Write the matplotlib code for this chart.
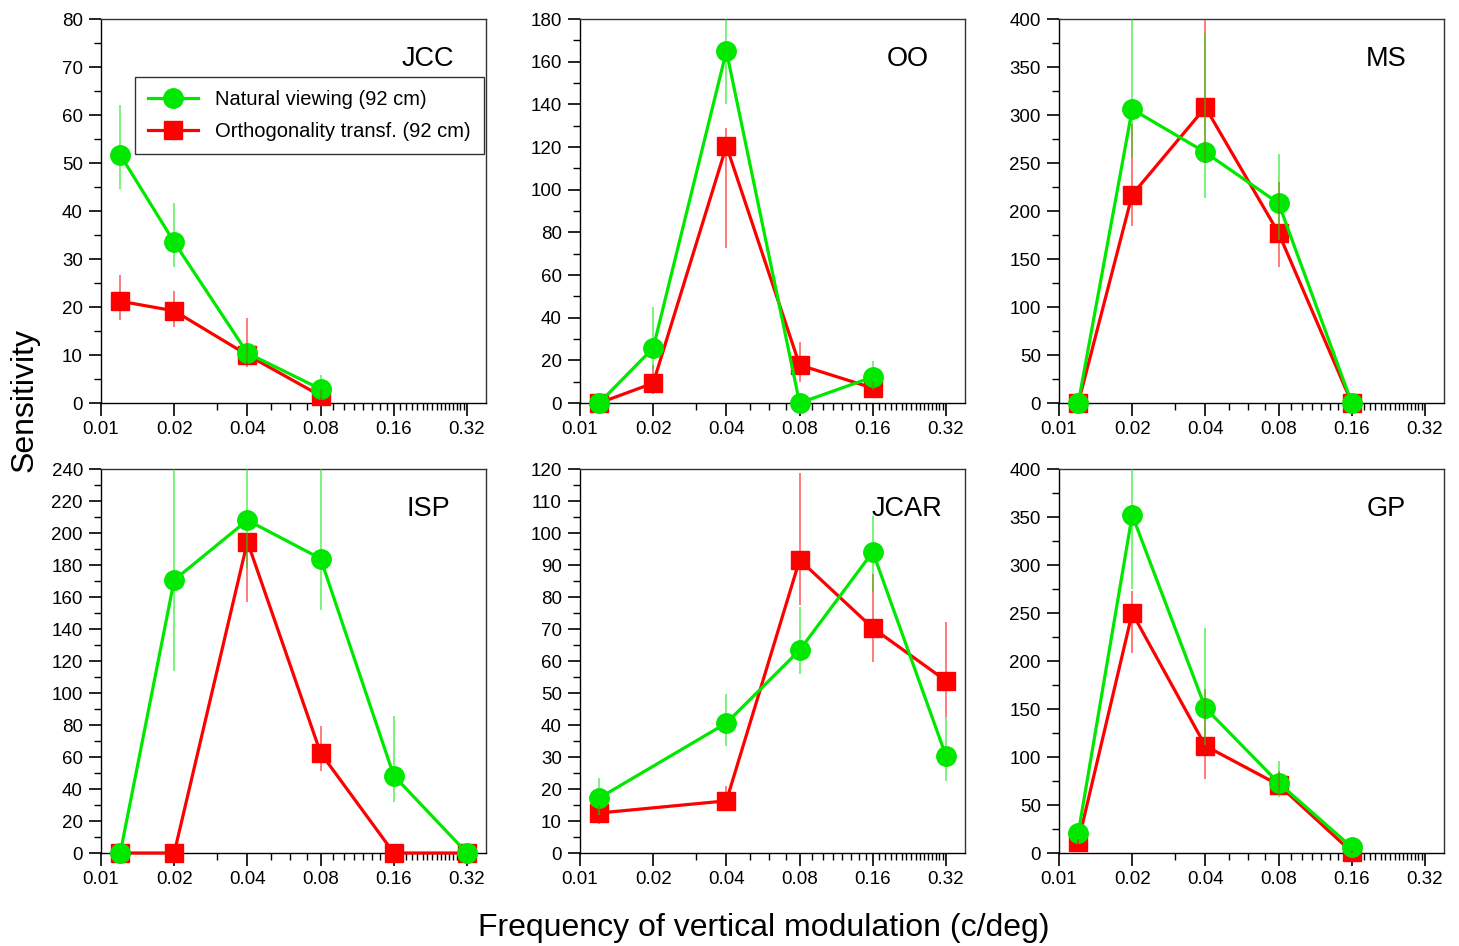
import numpy as np
import matplotlib
matplotlib.use("Agg")
import matplotlib.pyplot as plt
from matplotlib.ticker import FixedLocator, MultipleLocator, NullFormatter

plt.rcParams['font.family'] = ['Liberation Sans', 'DejaVu Sans']

# panel data: x positions (c/deg), means and error bar ends
names = ['JCC', 'OO', 'MS', 'ISP', 'JCAR', 'GP']

x_jcc = [0.012, 0.02, 0.04, 0.08]
nat_jcc = [51.7, 33.5, 10.4, 2.9]
nat_lo_jcc = [44.6, 28.3, 8.5, 1.0]
nat_hi_jcc = [62.1, 41.7, 12.5, 5.8]
ort_jcc = [21.2, 19.2, 10.0, 1.5]
ort_lo_jcc = [17.3, 15.8, 7.5, 0.5]
ort_hi_jcc = [26.7, 23.3, 17.7, 3.0]

x_oo = [0.012, 0.02, 0.04, 0.08, 0.16]
nat_oo = [0, 25.8, 165, 0, 12.2]
nat_lo_oo = [0, 16, 140, 0, 6]
nat_hi_oo = [0, 45, 200, 0, 19.7]
ort_oo = [0, 9.3, 120.5, 17.8, 7]
ort_lo_oo = [0, 4, 72.6, 10, 3]
ort_hi_oo = [0, 18, 129, 28.6, 10]

x_ms = [0.012, 0.02, 0.04, 0.08, 0.16]
nat_ms = [0, 306, 261, 208, 0]
nat_lo_ms = [0, 255, 214, 170, 0]
nat_hi_ms = [0, 420, 385, 259, 0]
ort_ms = [0, 217, 308, 177, 0]
ort_lo_ms = [0, 184, 250, 142, 0]
ort_hi_ms = [0, 291, 420, 230, 0]

x_isp = [0.012, 0.02, 0.04, 0.08, 0.16, 0.32]
nat_isp = [0, 170.6, 208, 184, 48.3, 0]
nat_lo_isp = [0, 114, 178, 152, 32, 0]
nat_hi_isp = [0, 260, 250, 250, 85.6, 0]
ort_isp = [0, 0, 194.6, 62.5, 0, 0]
ort_lo_isp = [0, 0, 157, 51, 0, 0]
ort_hi_isp = [0, 0, 200, 79.5, 0, 0]

x_jcar = [0.012, 0.04, 0.08, 0.16, 0.32]
nat_jcar = [17.2, 40.6, 63.4, 94.1, 30.3]
nat_lo_jcar = [12, 33.4, 56, 81.6, 22.5]
nat_hi_jcar = [23.4, 49.7, 76.8, 105.3, 42.5]
ort_jcar = [12.5, 16.3, 91.6, 70.3, 53.8]
ort_lo_jcar = [9, 13, 77.5, 59.7, 42.5]
ort_hi_jcar = [15, 21, 118.8, 87.2, 72.2]

x_gp = [0.012, 0.02, 0.04, 0.08, 0.16]
nat_gp = [20.8, 352, 151, 73, 6]
nat_lo_gp = [15, 275, 112, 58, 3]
nat_hi_gp = [26, 420, 234, 96, 9]
ort_gp = [11.5, 250, 111.5, 71, 1]
ort_lo_gp = [8, 208, 77, 60, 0]
ort_hi_gp = [15, 273, 171, 85, 2]

ylims = [80, 180, 400, 240, 120, 400]
ysteps = [10, 20, 50, 20, 10, 50]

xticks = [0.01, 0.02, 0.04, 0.08, 0.16, 0.32]
xticklabels = ['0.01', '0.02', '0.04', '0.08', '0.16', '0.32']

panels = [
    (x_jcc, nat_jcc, nat_lo_jcc, nat_hi_jcc, ort_jcc, ort_lo_jcc, ort_hi_jcc),
    (x_oo, nat_oo, nat_lo_oo, nat_hi_oo, ort_oo, ort_lo_oo, ort_hi_oo),
    (x_ms, nat_ms, nat_lo_ms, nat_hi_ms, ort_ms, ort_lo_ms, ort_hi_ms),
    (x_isp, nat_isp, nat_lo_isp, nat_hi_isp, ort_isp, ort_lo_isp, ort_hi_isp),
    (x_jcar, nat_jcar, nat_lo_jcar, nat_hi_jcar, ort_jcar, ort_lo_jcar, ort_hi_jcar),
    (x_gp, nat_gp, nat_lo_gp, nat_hi_gp, ort_gp, ort_lo_gp, ort_hi_gp),
]

GREEN = '#00e800'
RED = '#ff0000'

W, H = 1459, 946
fig = plt.figure(figsize=(W / 100, H / 100), dpi=100)

lefts = [101, 580, 1059]
tops = [19, 469]
aw, ah = 385, 384

for i, (name, p) in enumerate(zip(names, panels)):
    r, c = divmod(i, 3)
    ax = fig.add_axes([lefts[c] / W, 1 - (tops[r] + ah) / H, aw / W, ah / H])
    x, gy, glo, ghi, ry, rlo, rhi = [np.array(v, dtype=float) for v in p]

    # error bars (thin, translucent, clipped at axes)
    ax.vlines(x, rlo, rhi, color=RED, lw=1.2, alpha=0.6, zorder=6)
    ax.vlines(x, glo, ghi, color=GREEN, lw=1.2, alpha=0.6, zorder=6)

    ax.plot(x, ry, color=RED, lw=2.3, marker='s', ms=13, mec=RED,
            clip_on=False, zorder=4, label='Orthogonality transf. (92 cm)')
    ax.plot(x, gy, color=GREEN, lw=2.3, marker='o', ms=14, mec=GREEN,
            clip_on=False, zorder=5, label='Natural viewing (92 cm)')

    ax.set_xscale('log')
    ax.set_xlim(0.01, 0.383)
    ax.set_ylim(0, ylims[i])
    ax.xaxis.set_major_locator(FixedLocator(xticks))
    ax.set_xticklabels(xticklabels)
    minors = [m / 100 for m in range(3, 33) if m not in (4, 8, 16, 32)]
    ax.xaxis.set_minor_locator(FixedLocator(minors))
    ax.xaxis.set_minor_formatter(NullFormatter())
    ax.yaxis.set_major_locator(MultipleLocator(ysteps[i]))
    ax.yaxis.set_minor_locator(MultipleLocator(ysteps[i] / 2))

    ax.tick_params(which='major', direction='out', length=9, width=1.2,
                   labelsize=13.5, pad=4, top=False, right=False)
    ax.tick_params(which='minor', direction='out', length=5, width=1.0,
                   top=False, right=False)
    for s in ax.spines.values():
        s.set_linewidth(1.0)
        s.set_color('#333333')
    ax.spines['left'].set_color('black')
    ax.spines['bottom'].set_color('black')

    ax.text(0.85, 0.897, name, transform=ax.transAxes, fontsize=19.5,
            ha='center', va='center')

    if i == 0:
        h, l = ax.get_legend_handles_labels()
        leg = ax.legend(h[::-1], l[::-1], loc='upper left',
                        bbox_to_anchor=(0.088, 0.849), borderaxespad=0,
                        fontsize=14.5, frameon=True, fancybox=False,
                        handlelength=2.5, handletextpad=0.85,
                        borderpad=0.65, labelspacing=0.62)
        leg.get_frame().set_edgecolor('black')
        leg.get_frame().set_linewidth(1.0)
        leg.set_zorder(10)

fig.text(25 / W, 1 - 400 / H, 'Sensitivity', rotation=90, fontsize=23,
         ha='center', va='center')
fig.text(764 / W, 1 - 928 / H, 'Frequency of vertical modulation (c/deg)',
         fontsize=23, ha='center', va='center')

fig.savefig('out.png', dpi=100)
